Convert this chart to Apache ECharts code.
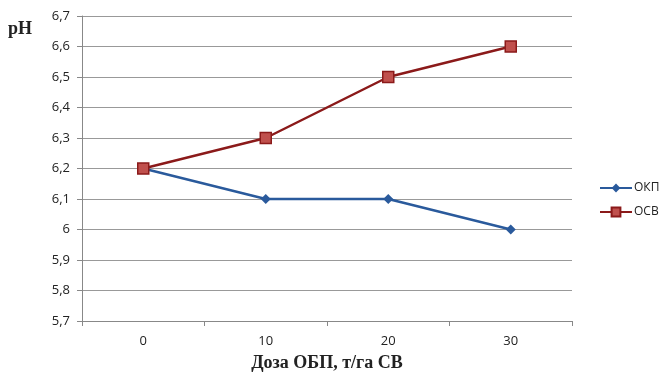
<!DOCTYPE html>
<html><head><meta charset="utf-8">
<script src="https://cdn.jsdelivr.net/npm/echarts@6/dist/echarts.min.js"></script>
<style>html,body{margin:0;padding:0;background:#fff}#c{width:661px;height:376px}</style>
</head><body><div id="c"></div>
<script>
const categories = ['0','10','20','30'];
const okp = [6.2, 6.1, 6.1, 6.0];
const osv = [6.2, 6.3, 6.5, 6.6];
const chart = echarts.init(document.getElementById('c'));
chart.setOption({
  animation:false,
  grid:{left:82,right:89,top:16,bottom:55,containLabel:false,outerBoundsMode:'none'},
  legend:{orient:'vertical',left:594,top:177,itemGap:12,itemWidth:32,itemHeight:11,
    textStyle:{fontFamily:'Open Sans',fontSize:12,color:'#222',padding:[0,0,0,-3]},
    data:['ОКП','ОСВ']},
  xAxis:{type:'category',data:categories,boundaryGap:true,
    name:'Доза ОБП, т/га СВ',nameLocation:'middle',nameGap:33,
    nameTextStyle:{fontFamily:'Liberation Serif',fontWeight:'bold',fontSize:18,color:'#222'},
    axisLine:{lineStyle:{color:'#888'}},axisTick:{show:true,length:5,lineStyle:{color:'#888'}},
    axisLabel:{fontFamily:'Open Sans',fontSize:13,color:'#222',margin:14}},
  yAxis:{type:'value',min:5.7,max:6.7,interval:0.1,
    axisLine:{show:true,lineStyle:{color:'#888'}},axisTick:{show:true,length:5,lineStyle:{color:'#888'}},
    splitLine:{lineStyle:{color:'#999'}},
    axisLabel:{fontFamily:'Open Sans',fontSize:13,color:'#222',margin:12,
      formatter:v=>(Math.round(v*10)/10).toString().replace('.',',')}},
  graphic:[{type:'text',left:8,top:20,style:{text:'pH',font:'bold 18px "Liberation Serif"',fill:'#222'}}],
  series:[
    {name:'ОКП',type:'line',data:okp,symbol:'diamond',symbolSize:10,
      lineStyle:{color:'#2a5a9c',width:2.5},itemStyle:{color:'#2a5a9c'}},
    {name:'ОСВ',type:'line',data:osv,symbol:'rect',symbolSize:11,
      lineStyle:{color:'#8b1a1a',width:2.5},itemStyle:{color:'#c0504d',borderColor:'#8b1a1a',borderWidth:1.5}}
  ]
});
</script></body></html>
